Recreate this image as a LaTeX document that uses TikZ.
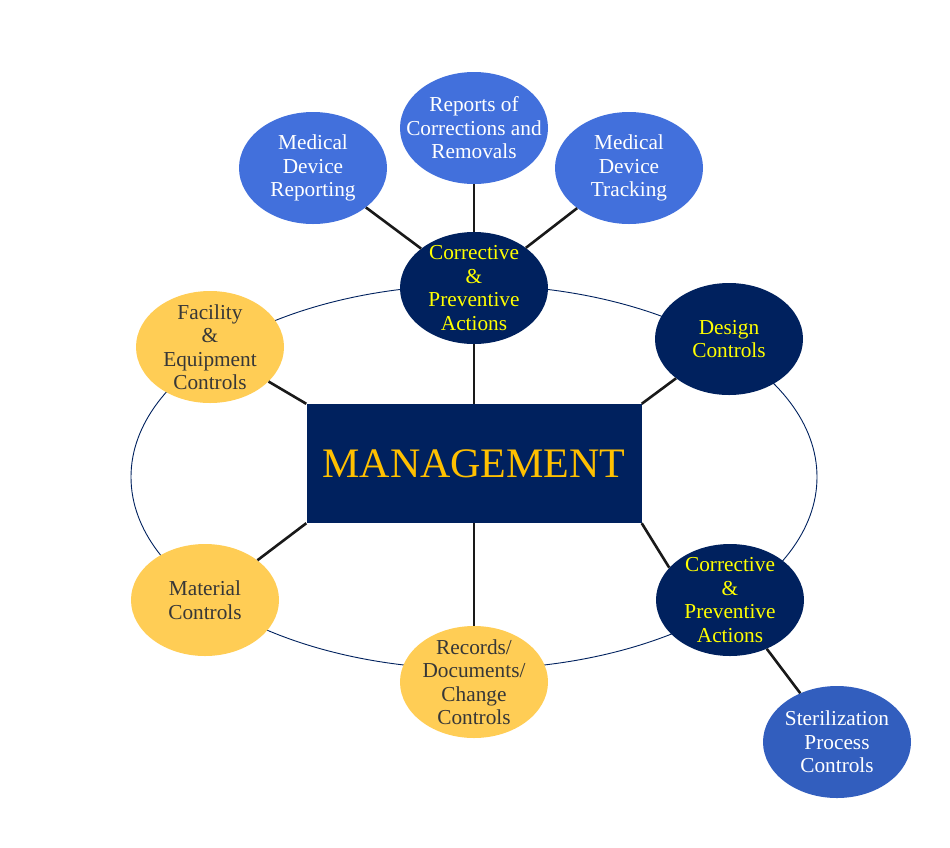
\documentclass[tikz,border=0pt]{standalone}
\usepackage{fontspec}
\setmainfont{Liberation Serif}
\usetikzlibrary{shapes.geometric}
\definecolor{navy}{RGB}{0,33,94}
\definecolor{lblue}{RGB}{66,112,220}
\definecolor{mblue}{RGB}{50,94,190}
\definecolor{gold}{RGB}{255,205,85}
\definecolor{capatxt}{RGB}{255,255,0}
\definecolor{mgtxt}{RGB}{255,192,0}
\definecolor{dtxt}{RGB}{55,55,55}
\tikzset{
  ell/.style={ellipse, minimum width=148pt, minimum height=112pt, inner sep=0pt, draw=none},
  txt/.style={align=center, font=\fontsize{21.3}{23.5}\selectfont, inner sep=0pt},
  blueell/.style={ell, fill=lblue},
  navyell/.style={ell, fill=navy},
  goldell/.style={ell, fill=gold},
  wtxt/.style={txt, text=white},
  ytxt/.style={txt, text=capatxt},
  dgtxt/.style={txt, text=dtxt},
  conn/.style={draw=black!90, line width=2.6pt},
  ring/.style={draw=navy, line width=0.9pt}
}
\begin{document}
\begin{tikzpicture}[x=1pt,y=-1pt]
\useasboundingbox (0,0) rectangle (950,847);
\draw[ring] (474,477) ellipse [x radius=343pt, y radius=192pt];
\node[rectangle, fill=navy, minimum width=335pt, minimum height=119pt, inner sep=0pt,
      text=mgtxt, font=\fontsize{42}{48}\selectfont] (mgmt) at (474,463.5) {MANAGEMENT};
\node[navyell, label={[ytxt]center:{Corrective\\\&\\Preventive\\Actions}}] (capa1) at (474,288) {};
\node[blueell, label={[wtxt]center:{Medical\\Device\\Reporting}}] (mdr) at (313,168) {};
\node[blueell, label={[wtxt]center:{Reports of\\Corrections and\\Removals}}] (rcr) at (474,128) {};
\node[blueell, label={[wtxt]center:{Medical\\Device\\Tracking}}] (mdt) at (629,168) {};
\node[navyell, label={[ytxt]center:{Design\\Controls}}] (des) at (729,339) {};
\node[goldell, label={[dgtxt]center:{Facility\\\&\\Equipment\\Controls}}] (fac) at (210,347) {};
\node[goldell, label={[dgtxt]center:{Material\\Controls}}] (mat) at (205,600) {};
\node[goldell, label={[dgtxt]center:{Records/\\Documents/\\Change\\Controls}}] (rec) at (474,682) {};
\node[navyell, label={[ytxt]center:{Corrective\\\&\\Preventive\\Actions}}] (capa2) at (730,600) {};
\node[ell, fill=mblue, label={[wtxt]center:{Sterilization\\Process\\Controls}}] (ster) at (837,742) {};
\draw[conn] (mdr) -- (capa1);
\draw[conn] (rcr) -- (capa1);
\draw[conn] (mdt) -- (capa1);
\draw[conn] (capa1) -- (mgmt);
\draw[conn] (fac) -- (mgmt.north west);
\draw[conn] (des) -- (mgmt.north east);
\draw[conn] (mat) -- (mgmt.south west);
\draw[conn] (capa2.152) -- (mgmt.south east);
\draw[conn] (mgmt) -- (rec);
\draw[conn] (capa2) -- (ster);
\end{tikzpicture}
\end{document}
